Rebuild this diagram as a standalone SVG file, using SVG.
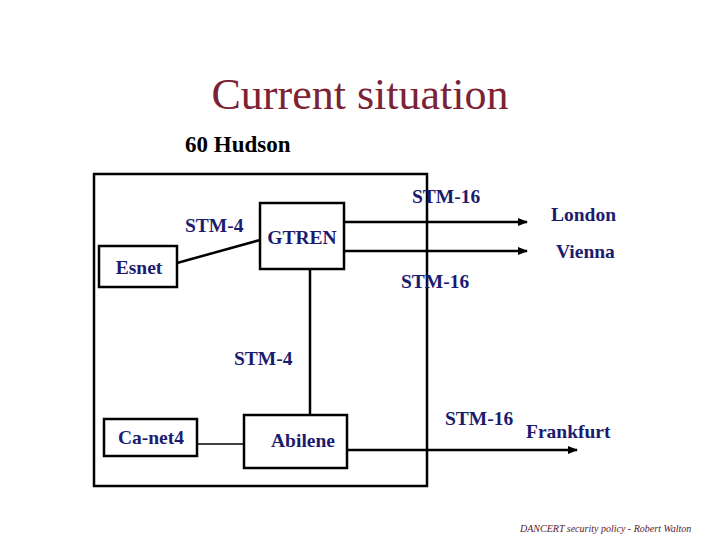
<svg xmlns="http://www.w3.org/2000/svg" width="720" height="540" viewBox="0 0 720 540">
<style>
.box{fill:#fff;stroke:#000;stroke-width:2.5}
.lbl{font-family:"Liberation Serif",serif;font-weight:bold;font-size:19.5px;fill:#1c1c6e}
.ln{stroke:#000;stroke-width:2.5;fill:none}
.thin{stroke:#000;stroke-width:1.5;fill:none}
</style>
<defs>
<marker id="arr" markerWidth="10" markerHeight="8" refX="9" refY="4" orient="auto" markerUnits="userSpaceOnUse">
<path d="M0,0 L10,4 L0,8 z" fill="#000"/>
</marker>
</defs>
<rect width="720" height="540" fill="#fff"/>
<text x="360" y="109" text-anchor="middle" font-family="'Liberation Serif',serif" font-size="44" fill="#7b2335">Current situation</text>
<text x="185" y="152" font-family="'Liberation Serif',serif" font-weight="bold" font-size="23" fill="#000">60 Hudson</text>
<g id="hudson"><rect x="94" y="174" width="333" height="312" fill="none" stroke="#000" stroke-width="2.5"/></g>
<g id="connectors">
<line class="ln" x1="177" y1="263" x2="260" y2="240"/>
<line class="ln" x1="344" y1="222" x2="527" y2="222" marker-end="url(#arr)"/>
<line class="ln" x1="344" y1="251" x2="527" y2="251" marker-end="url(#arr)"/>
<line class="ln" x1="310" y1="269" x2="310" y2="415"/>
<line class="thin" x1="197" y1="444" x2="244" y2="444"/>
<line class="ln" x1="347" y1="450" x2="577" y2="450" marker-end="url(#arr)"/>
</g>
<g id="esnet"><rect class="box" x="99" y="246" width="78" height="41"/><text class="lbl" x="139" y="274" text-anchor="middle">Esnet</text></g>
<g id="gtren"><rect class="box" x="260" y="203" width="84" height="66"/><text class="lbl" x="302" y="244" text-anchor="middle">GTREN</text></g>
<g id="canet4"><rect class="box" x="104" y="419" width="93" height="37"/><text class="lbl" x="151" y="444" text-anchor="middle">Ca-net4</text></g>
<g id="abilene"><rect class="box" x="244" y="415" width="103" height="53"/><text class="lbl" x="303" y="447" text-anchor="middle">Abilene</text></g>
<g id="labels">
<text class="lbl" x="185" y="232">STM-4</text>
<text class="lbl" x="412" y="203">STM-16</text>
<text class="lbl" x="551" y="221">London</text>
<text class="lbl" x="556" y="258">Vienna</text>
<text class="lbl" x="401" y="288">STM-16</text>
<text class="lbl" x="234" y="365">STM-4</text>
<text class="lbl" x="445" y="425">STM-16</text>
<text class="lbl" x="526" y="438">Frankfurt</text>
</g>
<text x="520" y="532" font-family="'Liberation Serif',serif" font-style="italic" font-size="10" fill="#5a1a2a">DANCERT security policy - Robert Walton</text>
</svg>
